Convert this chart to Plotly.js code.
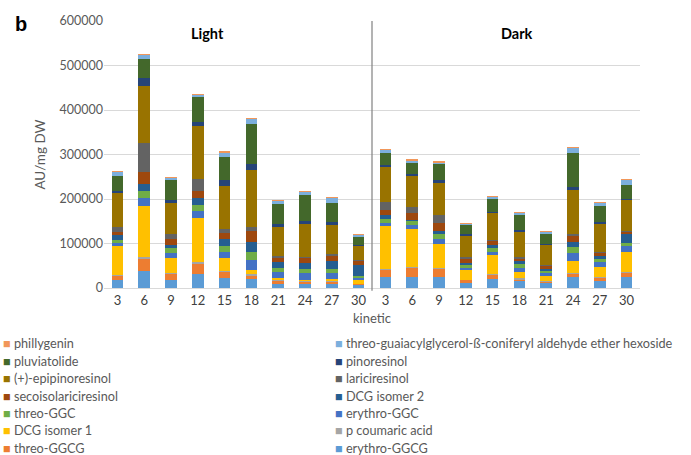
<!DOCTYPE html>
<html>
<head>
<meta charset="utf-8">
<script src="https://cdn.plot.ly/plotly-3.0.1.min.js"></script>
<style>html,body{margin:0;padding:0;background:#fff;}#chart{width:691px;height:455px;}</style>
</head>
<body>
<div id="chart"></div>
<script>
// Categories
const conditions = ["Light", "Dark"];
const kinetic = ["3", "6", "9", "12", "15", "18", "21", "24", "27", "30"];

// Series (stack order bottom -> top), values in AU/mg DW; first 10 = Light, last 10 = Dark
const seriesNames = [
  "erythro-GGCG", "threo-GGCG", "p coumaric acid", "DCG isomer 1", "erythro-GGC",
  "threo-GGC", "DCG isomer 2", "secoisolariciresinol", "lariciresinol",
  "(+)-epipinoresinol", "pinoresinol", "pluviatolide",
  "threo-guaiacylglycerol-ß-coniferyl aldehyde ether hexoside", "phillygenin"
];
const erythroGGCG   = [18000, 39000, 18000, 31000, 22000, 20000, 10000, 9000, 9000, 6000,   24000, 25000, 25000, 12000, 20000, 15000, 11000, 24000, 16000, 24000];
const threoGGCG     = [10000, 27000, 14000, 24000, 15000, 8000, 5000, 4000, 4000, 3000,      16000, 21000, 18000, 6000, 9000, 4000, 3000, 8000, 7000, 10000];
const pCoumaric     = [2000, 3000, 2000, 3000, 2000, 3000, 2000, 2000, 2000, 1000,          3000, 2000, 2000, 1000, 2000, 3000, 1000, 2000, 2000, 2000];
const dcgIsomer1    = [65000, 116000, 33000, 100000, 29000, 9000, 6000, 4000, 5000, 8000,   97000, 85000, 54000, 21000, 44000, 13000, 11000, 27000, 23000, 46000];
const erythroGGC    = [6000, 17000, 12000, 16000, 14000, 24000, 13000, 14000, 13000, 5000,  7000, 9000, 12000, 6000, 7000, 11000, 7000, 18000, 11000, 12000];
const threoGGC      = [7000, 15000, 11000, 13000, 12000, 17000, 10000, 10000, 9000, 5000,   8000, 8000, 10000, 5000, 8000, 7000, 5000, 13000, 7000, 7000];
const dcgIsomer2    = [12000, 16000, 7000, 15000, 17000, 22000, 12000, 14000, 18000, 24000, 10000, 3000, 8000, 6000, 7000, 7000, 5000, 12000, 7000, 20000];
const secoiso       = [6000, 28000, 14000, 16000, 13000, 26000, 10000, 10000, 13000, 9000,  11000, 15000, 16000, 8000, 8000, 6000, 6000, 13000, 5000, 5000];
const lariciresinol = [10000, 65000, 10000, 27000, 9000, 9000, 3000, 3000, 3000, 3000,      18000, 14000, 20000, 5000, 3000, 4000, 3000, 5000, 2000, 2000];
const epipinoresinol= [77000, 129000, 70000, 118000, 97000, 128000, 67000, 74000, 65000, 30000, 77000, 69000, 72000, 47000, 60000, 55000, 44000, 99000, 63000, 70000];
const pinoresinol   = [5000, 16000, 7000, 11000, 12000, 12000, 6000, 7000, 7000, 2000,      6000, 6000, 6000, 4000, 3000, 6000, 2000, 7000, 5000, 2000];
const pluviatolide  = [33000, 44000, 44000, 55000, 53000, 91000, 45000, 57000, 43000, 18000, 27000, 24000, 35000, 20000, 29000, 34000, 23000, 76000, 37000, 32000];
const threoGuaiacyl = [9000, 8000, 5000, 5000, 9000, 10000, 6000, 7000, 11000, 6000,        6000, 4000, 4000, 3000, 4000, 3000, 5000, 10000, 6000, 10000];
const phillygenin   = [2000, 2000, 2000, 2000, 3000, 2000, 2000, 3000, 2000, 2000,          3000, 5000, 4000, 3000, 2000, 3000, 3000, 3000, 3000, 3000];

const seriesValues = [erythroGGCG, threoGGCG, pCoumaric, dcgIsomer1, erythroGGC, threoGGC,
  dcgIsomer2, secoiso, lariciresinol, epipinoresinol, pinoresinol, pluviatolide, threoGuaiacyl, phillygenin];
const seriesColors = ["#5B9BD5", "#ED7D31", "#A5A5A5", "#FFC000", "#4472C4", "#70AD47",
  "#255E91", "#9E480E", "#636363", "#997300", "#264478", "#43682B", "#7CAFDD", "#F1975A"];

const xCats = [];
conditions.forEach(c => kinetic.forEach(k => xCats.push(c + " " + k)));
const tickText = [];
conditions.forEach(() => kinetic.forEach(k => tickText.push(k)));

const traces = seriesNames.map((name, i) => ({
  type: "bar",
  name: name,
  x: xCats,
  y: seriesValues[i],
  marker: { color: seriesColors[i], line: { width: 0 } },
  hoverinfo: "name+y",
  showlegend: false
}));

const gray = "#595959";
// plot area in pixels (for layout positioning of legend text)
const W = 691, H = 455, mL = 104, mR = 51, mT = 21, mB = 167;
const pw = W - mL - mR, ph = H - mT - mB;
const px2x = p => (p - mL) / pw;
const py2y = p => (H - mB - p) / ph;

// legend (two columns, top series first, read row by row)
const legendAnn = [];
const revIdx = seriesNames.map((_, i) => i).reverse();
revIdx.forEach((si, j) => {
  const row = Math.floor(j / 2), col = j % 2;
  legendAnn.push({
    text: '<span style="color:' + seriesColors[si] + '">■</span> ' + seriesNames[si],
    xref: "paper", yref: "paper",
    x: px2x(col === 0 ? 1 : 333), y: py2y(343 + row * 17.5),
    xanchor: "left", yanchor: "middle", showarrow: false,
    font: { size: 12.7, color: gray }
  });
});

const layout = {
  width: W, height: H,
  margin: { l: mL, r: mR, t: mT, b: mB },
  paper_bgcolor: "#fff", plot_bgcolor: "#fff",
  font: { family: "Lato, 'Open Sans', sans-serif", color: gray, size: 12 },
  barmode: "stack",
  bargap: 0.57,
  showlegend: false,
  xaxis: {
    type: "category",
    tickvals: xCats, ticktext: tickText,
    tickfont: { size: 13, color: "#404040" },
    showgrid: false, zeroline: false,
    showline: true, linecolor: "#D9D9D9", linewidth: 1,
    ticks: "",
    title: { text: "kinetic", font: { size: 13, color: gray }, standoff: 7 }
  },
  yaxis: {
    range: [0, 600000],
    tickvals: [0, 100000, 200000, 300000, 400000, 500000, 600000],
    ticktext: ["0", "100000", "200000", "300000", "400000", "500000", "600000"],
    tickfont: { size: 12.5, color: gray },
    showgrid: true, gridcolor: "#D9D9D9", gridwidth: 1,
    zeroline: false, showline: false, ticks: "",
    title: { text: "AU/mg DW", font: { size: 13.5, color: gray }, standoff: 10 }
  },
  shapes: [{
    type: "line", xref: "paper", yref: "paper",
    x0: 0.5, x1: 0.5, y0: -0.01, y1: 1,
    line: { color: "#808080", width: 1.2 }
  }],
  annotations: [
    { text: "<b>Light</b>", xref: "paper", yref: "paper", x: px2x(207), y: py2y(33),
      xanchor: "center", yanchor: "middle", showarrow: false,
      font: { size: 14.5, color: "#000" } },
    { text: "<b>Dark</b>", xref: "paper", yref: "paper", x: px2x(517), y: py2y(33),
      xanchor: "center", yanchor: "middle", showarrow: false,
      font: { size: 14.5, color: "#000" } },
    { text: "<b>b</b>", xref: "paper", yref: "paper", x: px2x(13), y: py2y(11), xanchor: "left", yanchor: "top",
      showarrow: false, font: { size: 20, color: "#000", family: "'Liberation Sans', Arial, sans-serif" } }
  ].concat(legendAnn)
};

Plotly.newPlot("chart", traces, layout, { displayModeBar: false, staticPlot: true });
</script>
</body>
</html>
